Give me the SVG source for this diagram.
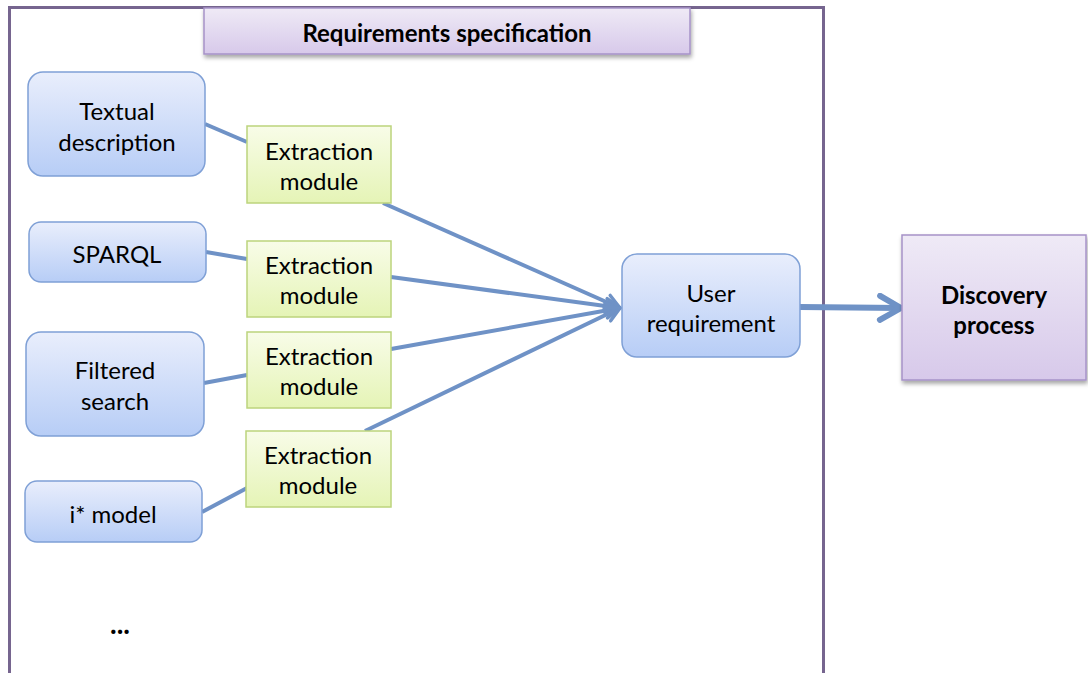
<svg xmlns="http://www.w3.org/2000/svg" width="1088" height="673" viewBox="0 0 1088 673">
  <defs>
    <linearGradient id="gBlue" x1="0" y1="0" x2="0" y2="1">
      <stop offset="0" stop-color="#e9eefc"/>
      <stop offset="1" stop-color="#b7cdf6"/>
    </linearGradient>
    <linearGradient id="gGreen" x1="0" y1="0" x2="0" y2="1">
      <stop offset="0" stop-color="#f8fce8"/>
      <stop offset="1" stop-color="#e5f4b6"/>
    </linearGradient>
    <linearGradient id="gPurple" x1="0" y1="0" x2="0" y2="1">
      <stop offset="0" stop-color="#efeaf6"/>
      <stop offset="1" stop-color="#d7c9ea"/>
    </linearGradient>
    <filter id="shadow" x="-10%" y="-20%" width="120%" height="150%">
      <feDropShadow dx="1" dy="3" stdDeviation="2" flood-color="#000" flood-opacity="0.35"/>
    </filter>
    <marker id="arrow" viewBox="0 0 20 20" refX="18" refY="10" markerWidth="20" markerHeight="20" markerUnits="userSpaceOnUse" orient="auto">
      <path d="M4,2.5 L18,10 L4,17.5" fill="none" stroke="#6f92c6" stroke-width="3.5" stroke-linecap="round" stroke-linejoin="round"/>
    </marker>
    <marker id="arrowBig" viewBox="0 0 30 30" refX="27" refY="15" markerWidth="30" markerHeight="30" markerUnits="userSpaceOnUse" orient="auto">
      <path d="M6,3 L27,15 L6,27" fill="none" stroke="#6f92c6" stroke-width="6" stroke-linecap="round" stroke-linejoin="round"/>
    </marker>
  </defs>
  <style>
    text { font-family: Lato, "Open Sans", "Liberation Sans", sans-serif; font-size: 24px; fill: #000; text-anchor: middle; }
    .bold { font-weight: bold; }
    .src { fill: url(#gBlue); stroke: #7fa0d6; stroke-width: 1.5; }
    .ext { fill: url(#gGreen); stroke: #bcd47c; stroke-width: 1.5; }
    .pur { fill: url(#gPurple); stroke: #a692c8; stroke-width: 1.5; }
    .link { stroke: #6f92c6; stroke-width: 4; fill: none; }
  </style>

  <rect width="1088" height="673" fill="#fff"/>

  <!-- frame of the specification area -->
  <g id="spec-frame">
    <path d="M9.5,690 L9.5,7.5 L823.5,7.5 L823.5,690" fill="none" stroke="#76658f" stroke-width="3"/>
  </g>

  <g id="title">
    <rect class="pur" x="204" y="8" width="486" height="46" filter="url(#shadow)"/>
    <text class="bold" x="447" y="42">Requirements specification</text>
  </g>

  <!-- connectors -->
  <g id="connectors">
    <line class="link" x1="205" y1="124" x2="247" y2="142"/>
    <line class="link" x1="206" y1="252" x2="247" y2="259"/>
    <line class="link" x1="204" y1="383" x2="247" y2="375"/>
    <line class="link" x1="202" y1="512" x2="247" y2="488"/>
    <line class="link" x1="383" y1="203" x2="620" y2="308" marker-end="url(#arrow)"/>
    <line class="link" x1="391" y1="277" x2="620" y2="308" marker-end="url(#arrow)"/>
    <line class="link" x1="391" y1="349" x2="620" y2="308" marker-end="url(#arrow)"/>
    <line class="link" x1="365" y1="431" x2="620" y2="308" marker-end="url(#arrow)"/>
    <line x1="800" y1="307" x2="901" y2="308" stroke="#6f92c6" stroke-width="6" marker-end="url(#arrowBig)"/>
  </g>

  <g id="textual-description">
    <rect class="src" x="28" y="72" width="177" height="104" rx="15"/>
    <text x="117" y="120">Textual</text>
    <text x="117" y="151">description</text>
  </g>

  <g id="sparql">
    <rect class="src" x="29" y="222" width="177" height="60" rx="12"/>
    <text x="117" y="263">SPARQL</text>
  </g>

  <g id="filtered-search">
    <rect class="src" x="26" y="332" width="178" height="104" rx="15"/>
    <text x="115" y="379">Filtered</text>
    <text x="115" y="410">search</text>
  </g>

  <g id="istar-model">
    <rect class="src" x="25" y="481" width="177" height="61" rx="12"/>
    <text x="113" y="523">i* model</text>
  </g>

  <g id="extraction-1">
    <rect class="ext" x="247" y="126" width="144" height="77"/>
    <text x="319" y="160">Extraction</text>
    <text x="319" y="190">module</text>
  </g>

  <g id="extraction-2">
    <rect class="ext" x="247" y="241" width="144" height="76"/>
    <text x="319" y="274">Extraction</text>
    <text x="319" y="304">module</text>
  </g>

  <g id="extraction-3">
    <rect class="ext" x="247" y="332" width="144" height="76"/>
    <text x="319" y="365">Extraction</text>
    <text x="319" y="395">module</text>
  </g>

  <g id="extraction-4">
    <rect class="ext" x="246" y="431" width="145" height="76"/>
    <text x="318" y="464">Extraction</text>
    <text x="318" y="494">module</text>
  </g>

  <g id="user-requirement">
    <rect class="src" x="622" y="254" width="178" height="103" rx="15"/>
    <text x="711" y="302">User</text>
    <text x="711" y="332">requirement</text>
  </g>

  <g id="discovery-process">
    <rect class="pur" x="902" y="235" width="184" height="145" filter="url(#shadow)"/>
    <text class="bold" x="994" y="304">Discovery</text>
    <text class="bold" x="994" y="334">process</text>
  </g>

  <g id="more">
    <text class="bold" x="120" y="634" style="font-size:28px">...</text>
  </g>
</svg>
